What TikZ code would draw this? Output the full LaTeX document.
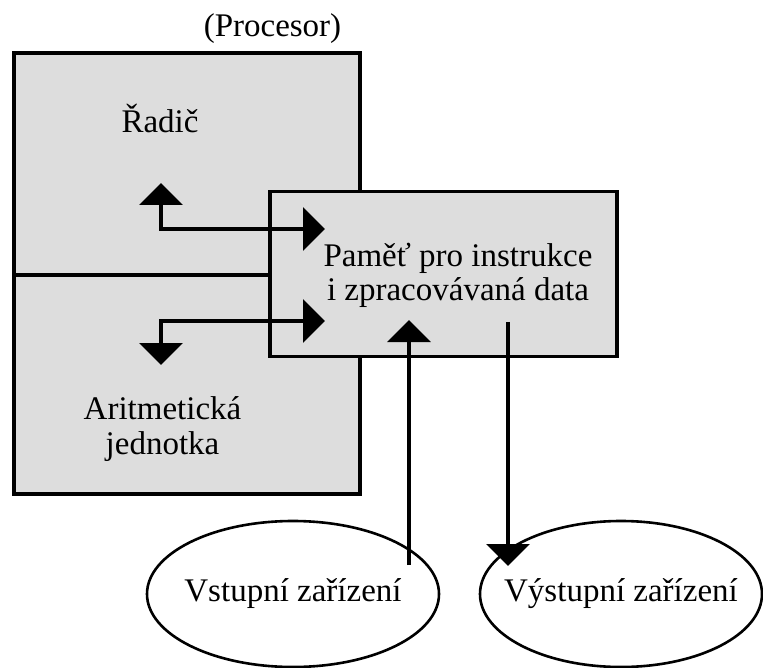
\documentclass[tikz,border=0pt]{standalone}
\usepackage{fontspec}
\setmainfont{Liberation Serif}
\usetikzlibrary{arrows.meta,shapes.geometric}

\tikzset{
    unit/.style = {draw = black, line width = 3.4pt, fill = boxgray, inner sep = 0pt},
    device/.style = {draw = black, line width = 2.6pt, ellipse, inner sep = 0pt,
                     minimum width = 292pt, minimum height = 146pt},
    lbl/.style = {inner sep = 0pt, align = center,
                  font = \fontsize{33}{34.5}\selectfont},
    bus/.style = {line width = 3.3pt, {Triangle[width = 43pt, length = 22pt]}-{Triangle[width = 43pt, length = 22pt]}},
    flow/.style = {line width = 3.3pt, -{Triangle[width = 43pt, length = 22pt]}}
}
\definecolor{boxgray}{RGB}{221,221,221}

\begin{document}
\begin{tikzpicture}[x = 1pt, y = -1pt]
        \useasboundingbox (0, 0) rectangle (763, 668);
        % processor with its two parts
        \node[unit, minimum width = 346pt, minimum height = 441pt] (proc) at (187, 273.5) {};
        \node[lbl, anchor = base] (procname) at (272.5, 37) {(Procesor)};
        \node[unit, minimum width = 347pt, minimum height = 165pt] (pamet) at (443.5, 274) {};
        \draw[line width = 3.4pt] (proc.west |- 0, 275) -- (pamet.west |- 0, 275);
        \node[lbl, anchor = base] (radic) at (160, 133) {Řadič};
        \node[lbl] (alu) at (162.5, 429) {Aritmetická\\jednotka};
        \node[lbl] (pametname) at (458, 275.5) {Paměť pro instrukce\\i zpracovávaná data};
        % devices
        \node[device] (vstup) at (293, 594) {};
        \node[lbl] at (vstup.center) {Vstupní zařízení};
        \node[device, minimum width = 282pt] (vystup) at (621, 594) {};
        \node[lbl] at (vystup.center) {Výstupní zařízení};
        % connectors
        \coordinate (radicEnd) at (161, 183);
        \coordinate (aluEnd) at (161, 365);
        \coordinate (pametUp) at (325, 229);
        \coordinate (pametDown) at (325, 321);
        \coordinate (inTop) at (409, 320);
        \coordinate (inBottom) at (409, 565);
        \coordinate (outTop) at (508, 322);
        \coordinate (outBottom) at (508, 566);
        \draw[bus] (radicEnd) |- (pametUp);
        \draw[bus] (aluEnd) |- (pametDown);
        \draw[flow] (inBottom) -- (inTop);
        \draw[flow] (outTop) -- (outBottom);
    \end{tikzpicture}
\end{document}
